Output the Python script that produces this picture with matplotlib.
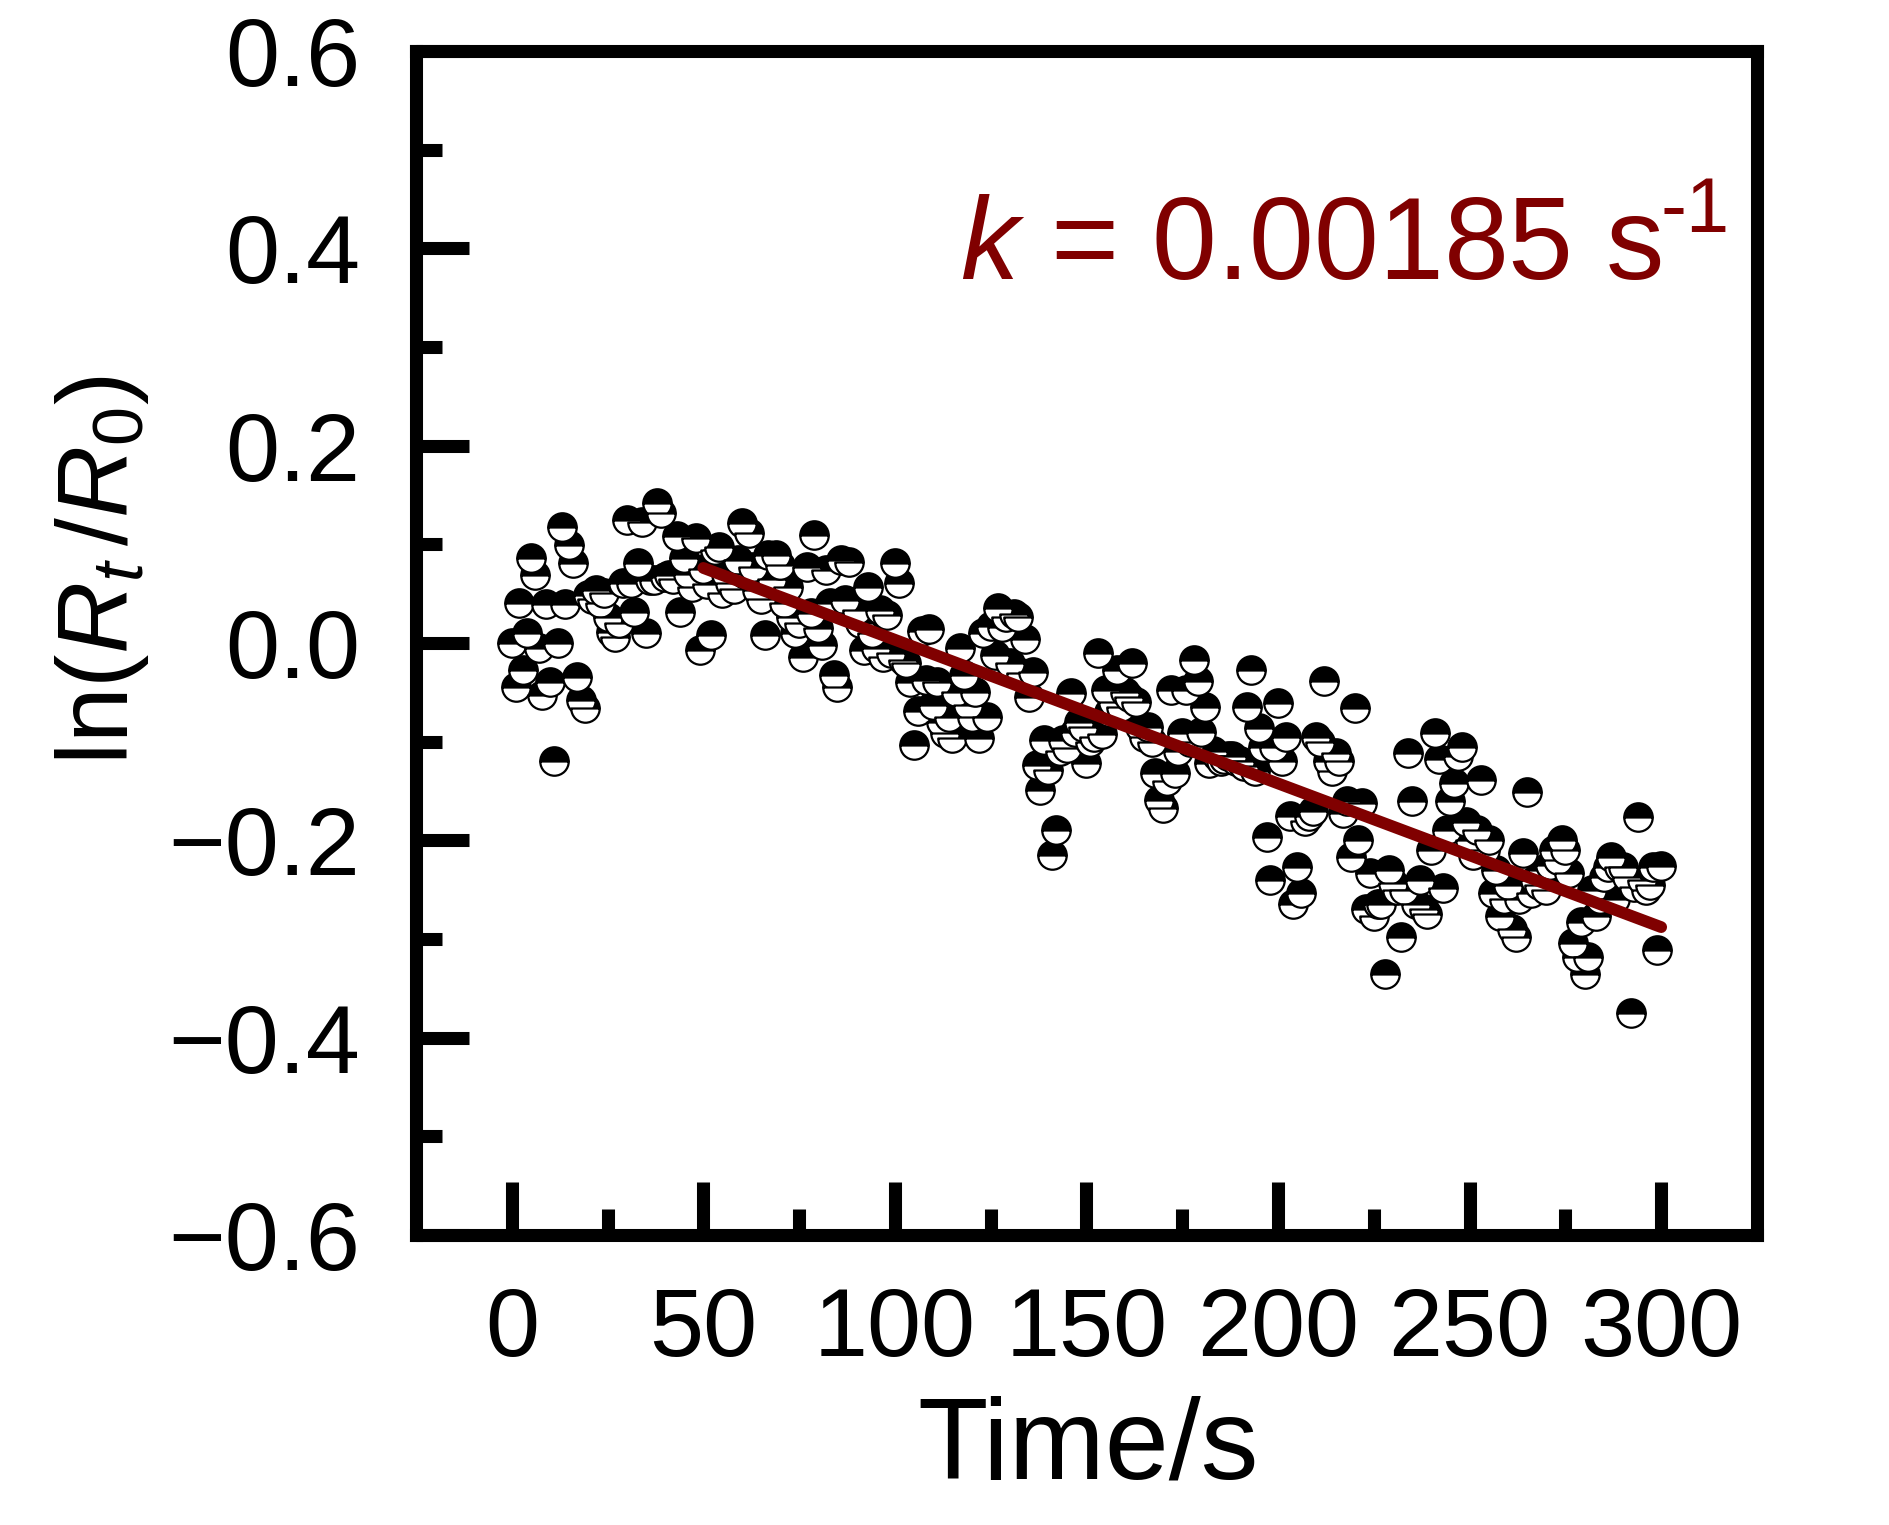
import numpy as np
import matplotlib
matplotlib.use("Agg")
import matplotlib.pyplot as plt

plt.rcParams['font.family'] = ['Liberation Sans', 'DejaVu Sans']
plt.rcParams['mathtext.fontset'] = 'custom'
plt.rcParams['mathtext.rm'] = 'Liberation Sans'
plt.rcParams['mathtext.it'] = 'Liberation Sans:italic'

# ln(Rt/R0), one point per second from 0 to 300 s
time_s = np.arange(0, 301)
ln_ratio = [
    0.000, -0.045, 0.040, -0.027, 0.010, 0.086, 0.069, -0.005, -0.053, 0.039,
    -0.040, -0.120, 0.000, 0.117, 0.039, 0.099, 0.081, -0.035, -0.058, -0.066,
    0.049, 0.045, 0.054, 0.040, 0.051, 0.026, 0.011, 0.006, 0.020, 0.061,
    0.125, 0.061, 0.031, 0.081, 0.123, 0.010, 0.064, 0.064, 0.142, 0.132,
    0.067, 0.069, 0.065, 0.108, 0.031, 0.086, 0.070, 0.057, 0.106, -0.007,
    0.075, 0.060, 0.008, 0.094, 0.097, 0.051, 0.070, 0.061, 0.055, 0.084,
    0.122, 0.070, 0.111, 0.077, 0.054, 0.045, 0.008, 0.089, 0.065, 0.089,
    0.079, 0.040, 0.057, 0.026, 0.010, 0.020, -0.014, 0.077, 0.030, 0.109,
    0.015, -0.002, 0.074, 0.040, -0.032, -0.045, 0.084, 0.044, 0.082, 0.030,
    0.033, 0.020, -0.007, 0.057, 0.010, -0.005, 0.033, -0.014, 0.028, -0.010,
    0.081, 0.061, -0.017, -0.020, -0.040, -0.103, -0.069, 0.012, -0.038, 0.014,
    -0.063, -0.040, -0.080, -0.091, -0.075, -0.096, -0.050, -0.005, -0.032, -0.063,
    -0.075, -0.050, -0.096, 0.010, -0.075, 0.017, -0.012, 0.035, 0.016, 0.026,
    -0.020, 0.029, 0.026, -0.030, 0.004, -0.055, -0.029, -0.124, -0.149, -0.098,
    -0.129, -0.215, -0.190, -0.110, -0.098, -0.106, -0.051, -0.090, -0.080, -0.085,
    -0.122, -0.100, -0.095, -0.010, -0.092, -0.048, -0.070, -0.060, -0.027, -0.065,
    -0.050, -0.055, -0.020, -0.060, -0.085, -0.095, -0.085, -0.100, -0.132, -0.159,
    -0.167, -0.140, -0.048, -0.132, -0.110, -0.091, -0.048, -0.100, -0.017, -0.039,
    -0.090, -0.065, -0.122, -0.110, -0.115, -0.120, -0.118, -0.115, -0.115, -0.120,
    -0.120, -0.125, -0.065, -0.027, -0.130, -0.086, -0.105, -0.197, -0.240, -0.105,
    -0.061, -0.120, -0.095, -0.175, -0.265, -0.227, -0.253, -0.180, -0.175, -0.170,
    -0.095, -0.100, -0.039, -0.120, -0.130, -0.112, -0.120, -0.172, -0.160, -0.217,
    -0.066, -0.200, -0.162, -0.270, -0.233, -0.277, -0.265, -0.265, -0.336, -0.230,
    -0.243, -0.250, -0.298, -0.250, -0.112, -0.160, -0.265, -0.240, -0.270, -0.275,
    -0.210, -0.091, -0.118, -0.248, -0.190, -0.160, -0.142, -0.115, -0.105, -0.181,
    -0.200, -0.215, -0.190, -0.139, -0.210, -0.200, -0.253, -0.230, -0.277, -0.260,
    -0.245, -0.290, -0.298, -0.260, -0.213, -0.151, -0.253, -0.240, -0.245, -0.230,
    -0.250, -0.225, -0.210, -0.220, -0.200, -0.210, -0.233, -0.304, -0.318, -0.283,
    -0.336, -0.318, -0.250, -0.277, -0.260, -0.237, -0.227, -0.217, -0.260, -0.227,
    -0.227, -0.237, -0.375, -0.247, -0.176, -0.240, -0.250, -0.245, -0.227, -0.311,
    -0.226,
]

# linear fit shown in the picture
fit_t = [50, 300]
fit_y = [0.076, -0.288]

fit_color = '#800000'

fig = plt.figure(figsize=(18.9, 15.25), dpi=100)
ax = fig.add_axes([0.2201, 0.1902, 0.7095, 0.7764])

ax.plot(time_s, ln_ratio, 'o', ls='none', ms=20.5, mew=1.6,
        fillstyle='top', markerfacecolor='black', markerfacecoloralt='white',
        markeredgecolor='black')
ax.plot(fit_t, fit_y, '-', color=fit_color, lw=8.5, solid_capstyle='round')

ax.set_xlim(-25, 325)
ax.set_ylim(-0.6, 0.6)
ax.set_xticks([0, 50, 100, 150, 200, 250, 300])
ax.set_xticks(np.arange(25, 300, 50), minor=True)
ax.set_yticks([-0.6, -0.4, -0.2, 0.0, 0.2, 0.4, 0.6])
ax.set_yticks([-0.5, -0.3, -0.1, 0.1, 0.3, 0.5], minor=True)
ax.set_yticklabels(['\u22120.6', '\u22120.4', '\u22120.2', '0.0', '0.2', '0.4', '0.6'])

for s in ax.spines.values():
    s.set_linewidth(9.4)
ax.tick_params(which='both', direction='in', top=False, right=False, width=9.4)
ax.tick_params(which='major', length=38, labelsize=70)
ax.tick_params(which='minor', length=19)
ax.tick_params(axis='x', which='major', pad=37)
ax.tick_params(axis='y', which='major', pad=40)

fig.text(1088 / 1890, 1 - 1479 / 1525, 'Time/s', fontsize=83,
         ha='center', va='baseline')
fig.text(102 / 1890, 1 - 570 / 1525, r'ln$(\mathit{R}_t\,/\mathit{R}_0)$',
         fontsize=72, rotation=90, ha='center', va='center')

ax.text(0.406, 0.807, r'$\mathit{k}$ = 0.00185 s', transform=ax.transAxes,
        fontsize=84, color=fit_color, ha='left', va='baseline')
ax.text(0.928, 0.847, '-1', transform=ax.transAxes,
        fontsize=56, color=fit_color, ha='left', va='baseline')

fig.savefig('out.png', dpi=100)
